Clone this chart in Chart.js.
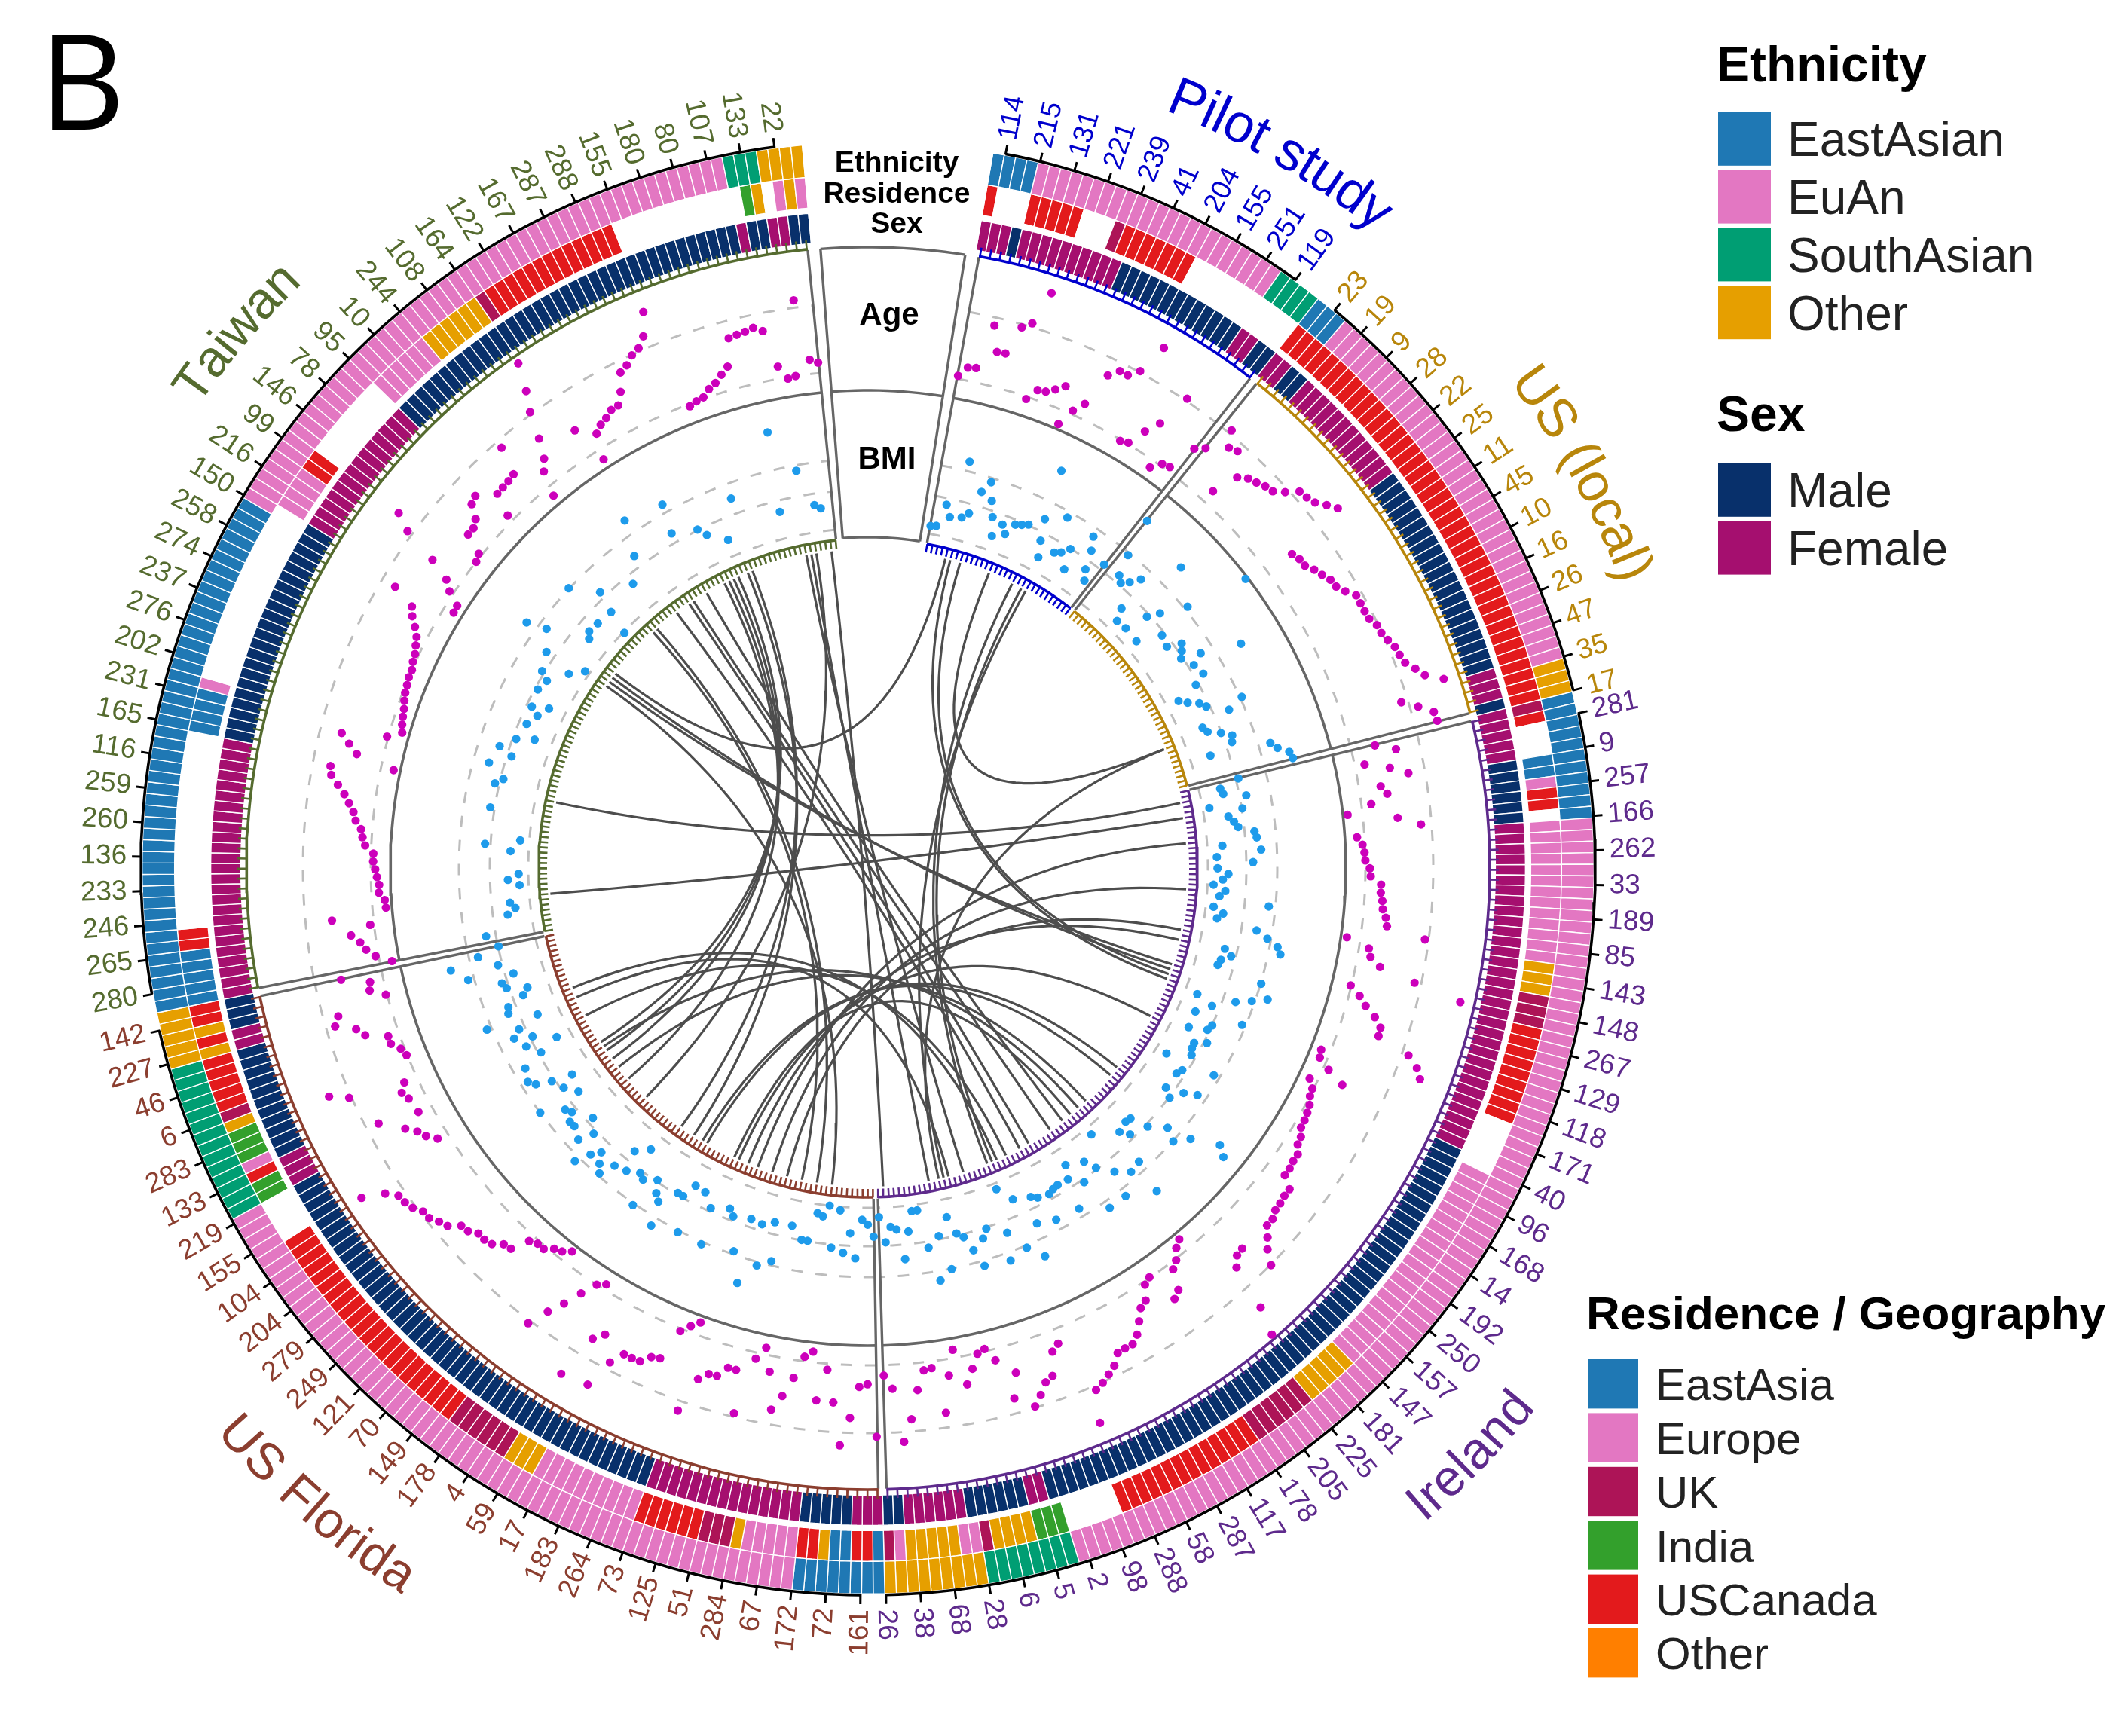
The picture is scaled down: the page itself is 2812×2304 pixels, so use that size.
<!DOCTYPE html>
<html lang="en">
<head>
  <meta charset="utf-8">
  <title>Circular cohort plot</title>
  <style>
    html, body { margin: 0; background: #fff; }
    canvas { display: block; }
  </style>
</head>
<body>
<canvas id="circos" width="2812" height="2304"></canvas>
<script src="https://cdn.jsdelivr.net/npm/chart.js@4/dist/chart.umd.js"></script>
<script>
// sample labels, one per black tick, clockwise
const pilotLabels = [114,215,131,221,239,41,204,155,251,119];
const localLabels = [23,19,9,28,22,25,11,45,10,16,26,47,35,17];
const irelandLabels = [281,9,257,166,262,33,189,85,143,148,267,129,118,171,40,96,168,14,192,250,157,147,181,225,205,178,117,287,58,288,98,2,5,6,28,68,38,26];
const floridaLabels = [161,72,172,67,284,51,125,73,264,183,17,59,4,178,149,70,121,249,279,204,104,155,219,133,283,6,46,227,142];
const taiwanLabels = [280,265,246,233,136,260,259,116,165,231,202,276,237,274,258,150,216,99,146,78,95,10,244,108,164,122,167,287,288,155,180,80,107,133,22];

// rings, run lengths: A EastAsian/EastAsia, E EuAn/Europe, S SouthAsian, O Other, K UK, I India, U USCanada, _ missing
const pilotEthnicity = ['A',4,'E',23,'S',4];
const localEthnicity = ['A',3,'E',35,'O',3];
const irelandEthnicity = ['A',11,'E',84,'S',8,'O',9];
const floridaEthnicity = ['A',8,'E',60,'S',14,'O',5];
const taiwanEthnicity = ['A',46,'E',52,'S',3,'O',4];

const pilotResidence = ['U',1,'_',3,'U',5,'_',3,'K',1,'U',7,'_',11];
const localResidence = ['U',41];
const irelandResidence = ['K',1,'U',1,'_',3,'A',2,'E',1,'U',2,'_',1,'E',13,'O',3,'K',3,'U',9,'_',5,'E',21,'O',5,'K',6,'U',14,'_',5,'I',3,'O',4,'K',1,'E',2,'O',5,'E',1,'K',1];
const floridaResidence = ['A',1,'U',2,'A',2,'O',1,'U',2,'E',5,'O',1,'K',3,'U',6,'E',10,'O',3,'K',6,'U',22,'_',4,'I',2,'U',1,'E',1,'I',3,'O',1,'K',1,'U',5,'O',1,'U',1,'O',1,'U',2];
const taiwanResidence = ['A',5,'U',2,'_',18,'A',4,'E',1,'_',17,'E',4,'U',2,'_',8,'E',6,'O',6,'K',1,'U',13,'_',12,'I',1,'O',1,'_',1,'E',1,'O',1,'E',1];

const pilotSex = ['F',3,'M',1,'F',10,'M',13,'F',2,'M',2];
const localSex = ['F',2,'M',2,'F',12,'M',21,'F',3,'M',1];
const irelandSex = ['F',5,'M',6,'F',32,'M',53,'F',2,'M',6,'F',6,'M',2];
const floridaSex = ['F',3,'M',5,'F',15,'M',45,'F',3,'M',11,'F',2,'M',3];
const taiwanSex = ['F',25,'M',22,'F',14,'M',37,'F',1,'M',2,'F',2,'M',2];

// age track values, years
const pilotAge = [20.9,23.8,24.2,37.6,30.2,30.4,39.1,41.1,51.3,19.3,22.9,23.3,24.9,26.9,15.8,21.1,24.4,34.9,37.6,37.6,40.4,49.8,19.6,20.4,25.8,30.2,40.7,17.8,20.7,21.3,30];
const localAge = [32.2,41.1,36.7,37.6,24,31.8,33.8,34.7,35.8,36.4,38.9,42.2,42.7,43.6,45.8,47.8,28.9,29.8,30,31.6,32.7,34,34.4,36,38.2,38.2,38.2,38.4,39.6,39.8,40.7,41.8,42.2,42.9,45.1,47.1,52,38,42.4,46.4,46.7];
const irelandAge = [27.1,32.9,22.9,30,35.1,26.4,28,22.9,15.6,30.2,36.9,17.8,19.3,19.8,20,21.3,21.6,24.7,24.7,25.3,25.6,26.7,27.3,38.9,16,22.9,23.8,27.1,38,52.4,19.8,23.1,25.6,29.1,31.6,31.8,42,45.6,47.6,17.3,17.8,21.6,27.1,17.6,19.6,20,21.1,21.6,22,22.2,23.6,24,25.6,25.6,26,26,29.6,29.6,30,30.2,31.3,31.3,33.8,36.2,40.2,30.7,31.1,33.6,47.1,55.3,16.2,17.6,20.4,22,27.8,29.3,19.8,20.9,24.9,26,29.1,32.2,34,34,34.2,37.1,38.7,40.2,41.3,50.7,24.4,26,32.7,33.8,36.9,39.6,28.4,35.6,23.3,19.3,20.2,24.2,28.4,17.6,24.9,35.6,22,22.4,28,36.4,42.9,27.1,23.1];
const floridaAge = [41.1,25.6,26.4,35.6,43.8,31.3,21.8,31.1,16.9,18.7,25.3,31.1,35.6,24.7,18,21.8,38.9,26.4,26.4,29.6,29.8,32.2,42.9,16.2,18.2,20.7,30.4,31.1,33.6,33.8,33.8,37.8,46.7,31.3,34.2,47.8,18.4,20,24.7,30,34.7,40.9,16.2,18,18.9,20.9,20.9,22,27.3,27.8,30.2,30.9,30.9,32.7,33.1,36.2,37.3,38.9,39.1,40.9,41.8,42.2,45.1,51.6,23.3,25.8,27.3,30,24.2,36.2,24.9,26,24,40.7,46,20.2,21.1,23.3,23.3,29.6,31.6,37.3,35.6,20.4,24.7,24,32.2];
const taiwanAge = [16.4,20.9,23.3,24.7,27.1,21.1,32.2,16,16.2,17.8,17.6,18.2,18.7,19.3,19.3,21.8,22.7,23.3,25.1,26,27.6,29.3,31.6,34,34.7,16.2,27.8,30.7,33.6,20.4,16.4,17.1,17.6,18,18.7,19.3,19.6,20,20,20.7,21.1,22,22.9,24.7,26.9,28.4,35.6,16.9,17.1,21.3,24,30.7,41.6,46.9,20,20.9,26.9,26.9,28.2,32,32.9,22,28.7,28.9,29.1,29.6,37.8,17.1,24.4,27.3,32.9,40.7,46.4,54.4,28.7,16.9,24.4,26,26.9,28.2,28.4,31.6,36.7,37.8,39.8,40.9,43.6,50.2,19.3,20,20.4,22.2,23.3,25.1,26.9,34.9,35.3,35.6,36.2,34.7,23.6,19.6,20,42.2,24.2,23.1];

// BMI track values, null where no dot can be seen
const pilotBmi = [19.8,20,23.8,21.9,31.6,22.3,23.3,27.3,29.3,26.4,23.9,20.9,23.3,22,24.1,24.5,25,35.4,27,23.5,20.9,29,22.9,23.5,24.8,21.4,28.6,26.5,23.4,21.8,25.9];
const localBmi = [36,29.6,26.1,25.3,26.4,28,22.3,20.3,34.1,20.5,24.4,26.4,20.4,30.6,24.3,41,23.8,26.1,25.4,24.6,27.8,25.8,34.3,26.4,24.4,20.6,21.8,23.5,24.3,30.3,27.5,22.3,22.8,24.8,26.4,26,21.9,32,32.9,34.6,34.9];
const irelandBmi = [25.3,22,22.3,26,19.6,25,22.5,23.3,23.9,26.5,26.8,21,27.4,20,26,20.1,21.9,21,19.5,21.5,20.6,28.9,19.8,21.5,20.6,27.4,29.4,31.3,32,22.8,24.1,22.6,22.3,30.1,null,31.9,29.5,27,20.6,23.6,29.4,21.4,24.9,24.5,21.5,25.4,23.5,23.6,24.1,29,20.4,24.1,23.6,28.5,26.4,23.5,25,36.4,38.1,32,27.9,30.1,25.3,22.3,22.1,24.1,22.6,28.4,34,28.8,19.8,27,31.3,24.6,22.6,31.3,25.4,21.3,23.5,28.6,23.4,23.6,24,28.3,23.6,23,27.4,32.9,22.1,30.4,19.5,26.9,31.4,null,25.1,26.5,30.9,27.9,25.4,24.5,21.5,30.1,24.3,31.6,25.9,19.5,19.5,22.8,27.3,22.3,21.8,24.3,20.1];
const floridaBmi = [23.3,21.3,20.5,26.9,22.8,26.1,19.1,25.4,18.5,20.4,20,24.8,24.8,null,22.8,null,29.3,22.9,30.6,23.8,34.3,23.5,29.5,null,24.1,23.1,null,30.4,24.3,null,22.3,30.3,22.1,24.6,24.6,31.5,27.5,26.5,24.6,30.3,25.9,25.3,21.1,26.4,23,27,29.6,28.4,26.8,28.3,30.9,25.5,28,23.8,27,27.1,25.8,26.4,22.8,30,24.4,22,25.4,27.9,28.8,null,28,24.4,20.9,26.1,24.4,27.3,25.9,22.1,30.8,26.5,26.1,23.1,22,25.3,25.8,23.5,31,25.6,33.4,28.5,24.8];
const taiwanBmi = [null,26.5,null,null,22.4,21,21.8,null,null,20,21.9,20.1,null,null,null,21.5,25.8,20,null,null,null,null,25.6,null,null,null,25.6,24.4,null,27.4,null,24.1,26.5,null,24.3,21.4,null,23.6,null,22.5,24,21.3,null,24.4,null,23.8,25.3,null,21.3,26.4,19.3,31.9,28.6,null,null,22,22.8,null,22.6,30.1,18.3,22.3,25.9,null,null,null,null,23.3,null,null,26.8,null,32.5,null,null,null,null,26.5,31.4,null,null,25,23.5,null,null,21.3,null,null,27.5,null,null,null,null,null,null,23,36.3,null,null,29.1,null,23,22.3,null,null];

// links between samples, numbered clockwise from the first pilot cell
const linkPairs = [[374,182],[371,233],[370,173],[369,166],[358,224],[357,221],[355,247],[354,245],[353,243],[352,238],[348,144],[345,147],[344,152],[341,154],[336,195],[335,198],[324,4],[323,107],[322,106],[321,192],[296,74],[278,77],[5,109],[7,108],[13,63],[18,161],[20,160],[21,170],[63,171],[82,207],[91,204],[99,201],[101,209],[117,211],[129,218],[131,219],[138,241],[140,246],[142,212],[157,253],[159,259],[169,257]];

const ethnicityLegend = ['EastAsian','EuAn','SouthAsian','Other'];
const ethnicityLegendColors = ['#1F78B4','#E377C2','#009E73','#E69F00'];
const sexLegend = ['Male','Female'];
const sexLegendColors = ['#08306B','#A50F6F'];
const residenceLegend = ['EastAsia','Europe','UK','India','USCanada','Other'];
const residenceLegendColors = ['#1F78B4','#E377C2','#AD1457','#33A02C','#E31A1C','#FF7F00'];

// ---- layout
const R = 964;
const RING_START = 9.9, RING_SPAN = 344.9;
const SECTOR_GAP = 0.38;
const palette = {A:'#1F78B4',E:'#E377C2',S:'#009E73',O:'#E69F00',K:'#AD1457',I:'#33A02C',U:'#E31A1C',_:'#FFFFFF',M:'#08306B',F:'#A50F6F'};

const sectors = [
  {name:'Pilot study', color:'#0000CD', labels:pilotLabels, eth:pilotEthnicity, res:pilotResidence, sex:pilotSex, age:pilotAge, bmi:pilotBmi, tick:[10.9,36], title:[30.0,1080,false,72]},
  {name:'US (local)', color:'#B8860B', labels:localLabels, eth:localEthnicity, res:localResidence, sex:localSex, age:localAge, bmi:localBmi, tick:[39.9,75.85], title:[61.1,1068,false,72]},
  {name:'Ireland', color:'#5E2A8C', labels:irelandLabels, eth:irelandEthnicity, res:irelandResidence, sex:irelandSex, age:irelandAge, bmi:irelandBmi, tick:[77.7,178.6], title:[134.3,1140,true,68]},
  {name:'US Florida', color:'#8B3E2F', labels:floridaLabels, eth:floridaEthnicity, res:floridaResidence, sex:floridaSex, age:floridaAge, bmi:floridaBmi, tick:[180.6,257.07], title:[220.9,1145,true,68]},
  {name:'Taiwan', color:'#556B2F', labels:taiwanLabels, eth:taiwanEthnicity, res:taiwanResidence, sex:taiwanSex, age:taiwanAge, bmi:taiwanBmi, tick:[260,352.6], title:[310.1,1080,false,68]}
];

const expand = runs => {
  const out = [];
  for (let i = 0; i < runs.length; i += 2) for (let j = 0; j < runs[i + 1]; j++) out.push(runs[i]);
  return out;
};
const totalCells = sectors.reduce((n, s) => n + expand(s.eth).length, 0);
const cellStep = RING_SPAN / totalCells;

let cellsSoFar = 0;
sectors.forEach(s => {
  s.first = cellsSoFar;
  s.n = expand(s.eth).length;
  s.from = RING_START + s.first * cellStep;
  s.to = s.from + s.n * cellStep;
  cellsSoFar += s.n;
});

const polar = (deg, r) => ({x: r * Math.sin(deg * Math.PI / 180), y: r * Math.cos(deg * Math.PI / 180)});
const BREAK = {x: NaN, y: NaN};
const ageRadius = v => 660 + (v - 20) * 4.5;   // dashes sit at 20 and 40
const bmiRadius = v => 451 + (v - 18.5) * 8;   // dashes sit at 18.5, 25 and 30
const arc = (a, b, r) => {
  const pts = [];
  const steps = Math.ceil(Math.abs(b - a));
  for (let i = 0; i <= steps; i++) pts.push(polar(a + (b - a) * i / steps, r));
  return pts;
};
const lineSet = (data, color, width, extra) => Object.assign({
  type: 'scatter', showLine: true, data, borderColor: color, borderWidth: width,
  pointRadius: 0, tension: 0, spanGaps: false, clip: false, weight: 0, order: 2
}, extra || {});

// ---- doughnut rings, outermost first; the last slice is the gap at the top
const ring = (key, weight) => ({
  type: 'doughnut', weight, order: 10,
  data: [...Array(totalCells).fill(1), (360 - RING_SPAN) / cellStep],
  backgroundColor: [...sectors.flatMap(s => expand(s[key]).map(c => palette[c])), 'rgba(0,0,0,0)'],
  borderColor: '#FFFFFF', borderWidth: 1.4, hoverOffset: 0, hoverBorderWidth: 0,
  rotation: RING_START, cutout: ((R - 131) / R * 100) + '%'
});
const datasets = [
  ring('eth', 43),
  ring('res', 41),
  {type: 'doughnut', weight: 7, order: 11, data: [], hoverOffset: 0, rotation: RING_START, cutout: ((R - 131) / R * 100) + '%'},
  ring('sex', 40)
];

// ---- tracks
sectors.forEach(s => {
  const a = s.from + SECTOR_GAP, b = s.to - SECTOR_GAP;
  [660, 750, 451, 502, 543].forEach(r => {
    datasets.push(lineSet(arc(a, b, r), '#BDBDBD', 3, {borderDash: [15, 17], order: 4}));
  });
  datasets.push(lineSet(arc(a, b, 634), '#666666', 3.6));
  datasets.push(lineSet([polar(a, 439), polar(a, 824), BREAK, polar(b, 439), polar(b, 824)], '#666666', 3.4));

  // coloured rims with one tick per sample
  const outer = [], inner = [];
  for (let i = 0; i < s.n; i++) {
    const t = s.from + (i + 0.5) * cellStep;
    outer.push(polar(t, 824), polar(t, 837), BREAK);
    inner.push(polar(t, 437), polar(t, 426), BREAK);
  }
  datasets.push(lineSet(arc(a, b, 825), s.color, 3.6, {order: 1}));
  datasets.push(lineSet(arc(a, b, 437), s.color, 3.6, {order: 1}));
  datasets.push(lineSet(outer, s.color, 2.6, {order: 1}));
  datasets.push(lineSet(inner, s.color, 2.6, {order: 1}));

  // black axis with a tick per label
  const blackTicks = [];
  s.labels.forEach((_, k) => {
    const t = s.tick[0] + k * (s.tick[1] - s.tick[0]) / (s.labels.length - 1);
    blackTicks.push(polar(t, 964), polar(t, 977), BREAK);
  });
  datasets.push(lineSet(arc(s.tick[0], s.tick[1], 965), '#000000', 3.6, {order: 1}));
  datasets.push(lineSet(blackTicks, '#000000', 3, {order: 1}));
});

// title boxes in the gap
const boxA = -4.4, boxB = 9.0;
datasets.push(lineSet([...arc(boxA, boxB, 824), BREAK, ...arc(boxA, boxB, 634), BREAK, ...arc(boxA, boxB, 439), BREAK,
  polar(boxA, 439), polar(boxA, 824), BREAK, polar(boxB, 439), polar(boxB, 824)], '#666666', 3.4));

// ---- links, quadratic curve through the centre
linkPairs.forEach(([p, q]) => {
  const a = polar(RING_START + (p + 0.5) * cellStep, 423);
  const b = polar(RING_START + (q + 0.5) * cellStep, 423);
  const pts = [];
  for (let i = 0; i <= 40; i++) {
    const t = i / 40;
    pts.push({x: (1 - t) * (1 - t) * a.x + t * t * b.x, y: (1 - t) * (1 - t) * a.y + t * t * b.y});
  }
  datasets.push(lineSet(pts, '#4D4D4D', 3.2, {order: 3}));
});

// ---- dots
const dots = (key, radius) => sectors.flatMap(s => s[key].flatMap((v, i) =>
  v === null ? [] : [polar(s.from + (i + 0.5) * s.n * cellStep / s[key].length, radius(v))]));
datasets.push({type: 'scatter', data: dots('age', ageRadius), backgroundColor: '#CC00BB', pointRadius: 5.6, pointBorderWidth: 0, clip: false, weight: 0, order: 0});
datasets.push({type: 'scatter', data: dots('bmi', bmiRadius), backgroundColor: '#1E9BEB', pointRadius: 5.6, pointBorderWidth: 0, clip: false, weight: 0, order: 0});

// ---- all the text and the keys
const textPlugin = {
  id: 'circosText',
  afterDraw(chart) {
    const ctx = chart.ctx, sx = chart.scales.x, sy = chart.scales.y;
    const px = p => [sx.getPixelForValue(p.x), sy.getPixelForValue(p.y)];
    ctx.save();

    sectors.forEach(s => {
      ctx.fillStyle = s.color;
      ctx.font = '37px "Liberation Sans"';
      ctx.textBaseline = 'middle';
      s.labels.forEach((label, k) => {
        const t = s.tick[0] + k * (s.tick[1] - s.tick[0]) / (s.labels.length - 1);
        const [x, y] = px(polar(t, 984));
        const right = t < 180;
        ctx.save();
        ctx.translate(x, y);
        ctx.rotate((right ? t - 90 : t + 90) * Math.PI / 180);
        ctx.textAlign = right ? 'left' : 'right';
        ctx.fillText(String(label), 0, 0);
        ctx.restore();
      });

      // sector title set along the circle
      const [mid, r, flip, size] = s.title;
      ctx.font = size + 'px "Liberation Sans"';
      ctx.textAlign = 'center';
      ctx.textBaseline = 'alphabetic';
      const total = ctx.measureText(s.name).width;
      let run = -total / 2;
      for (const ch of s.name) {
        const w = ctx.measureText(ch).width;
        const off = (run + w / 2) / (flip ? r - 28 : r + 28) * 180 / Math.PI;
        const t = flip ? mid - off : mid + off;
        const [x, y] = px(polar(t, r));
        ctx.save();
        ctx.translate(x, y);
        ctx.rotate((flip ? t + 180 : t) * Math.PI / 180);
        ctx.fillText(ch, 0, 0);
        ctx.restore();
        run += w;
      }
    });

    ctx.fillStyle = '#000';
    ctx.textAlign = 'center';
    ctx.textBaseline = 'alphabetic';
    ctx.font = 'bold 39px "Liberation Sans"';
    ctx.fillText('Ethnicity', 1190, 228);
    ctx.fillText('Residence', 1190, 269);
    ctx.fillText('Sex', 1190, 309);
    ctx.font = 'bold 42px "Liberation Sans"';
    ctx.fillText('Age', 1180, 431);
    ctx.fillText('BMI', 1177, 622);

    ctx.textAlign = 'left';
    ctx.font = '176px "Open Sans"';
    ctx.fillText('B', 52, 172);

    const key = (title, names, colors, x, titleY, firstY, step, size, textX, boxW) => {
      ctx.fillStyle = '#000';
      ctx.font = 'bold ' + (size + 2) + 'px "Liberation Sans"';
      ctx.fillText(title, x, titleY);
      names.forEach((name, i) => {
        ctx.fillStyle = colors[i];
        ctx.fillRect(x + 2, firstY + i * step, boxW, step - 6);
        ctx.fillStyle = '#222';
        ctx.font = size + 'px "Liberation Sans"';
        ctx.fillText(name, textX, firstY + i * step + (step - 6) / 2 + size * 0.36);
      });
    };
    key('Ethnicity', ethnicityLegend, ethnicityLegendColors, 2278, 108, 149, 76.8, 64, 2372, 70);
    key('Sex', sexLegend, sexLegendColors, 2278, 572, 615, 76.8, 64, 2372, 70);
    key('Residence / Geography', residenceLegend, residenceLegendColors, 2105, 1764, 1804, 71.4, 60, 2197, 67);
    ctx.restore();
  }
};

new Chart(document.getElementById('circos'), {
  type: 'scatter',
  data: {datasets},
  plugins: [textPlugin],
  options: {
    responsive: false,
    devicePixelRatio: 1,
    animation: false,
    events: [],
    layout: {padding: {left: 1152 - R, right: 2812 - 1152 - R, top: 1152 - R, bottom: 2304 - 1152 - R}},
    scales: {
      x: {display: false, type: 'linear', min: -R, max: R},
      y: {display: false, type: 'linear', min: -R, max: R}
    },
    plugins: {legend: {display: false}, tooltip: {enabled: false}}
  }
});
</script>
</body>
</html>
